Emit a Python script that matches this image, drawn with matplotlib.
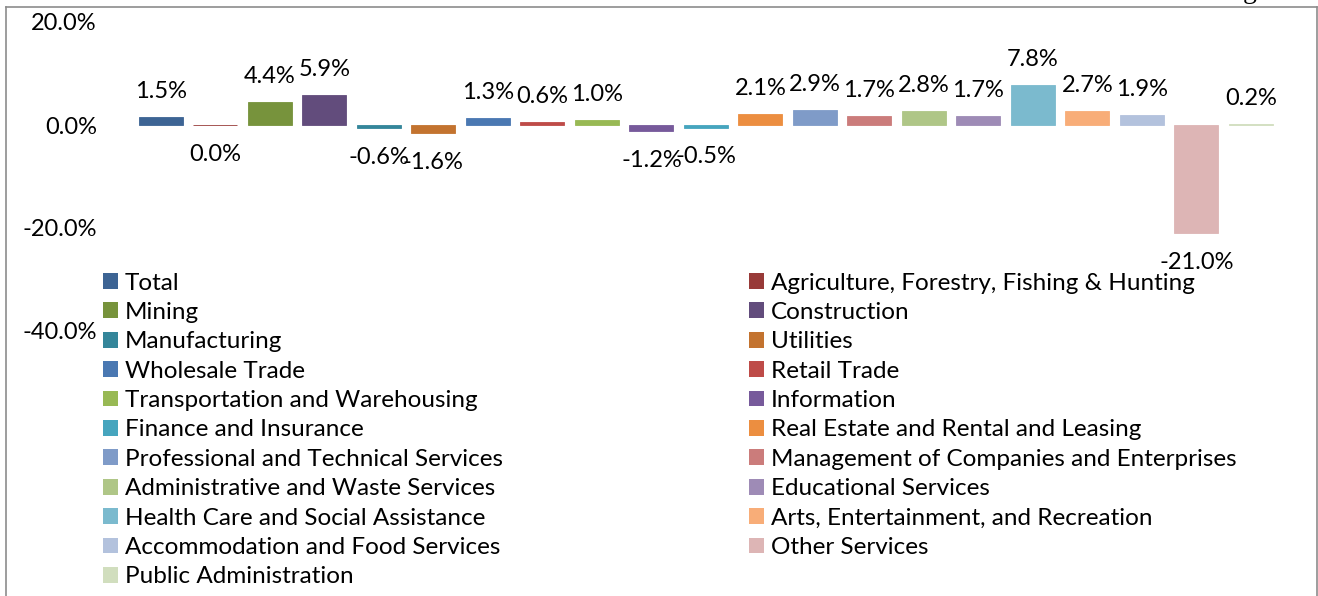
import matplotlib
matplotlib.use("Agg")
import matplotlib.pyplot as plt
from matplotlib.patches import Patch
from matplotlib.lines import Line2D

categories = [
    "Total", "Agriculture, Forestry, Fishing & Hunting", "Mining", "Construction",
    "Manufacturing", "Utilities", "Wholesale Trade", "Retail Trade",
    "Transportation and Warehousing", "Information", "Finance and Insurance",
    "Real Estate and Rental and Leasing", "Professional and Technical Services",
    "Management of Companies and Enterprises", "Administrative and Waste Services",
    "Educational Services", "Health Care and Social Assistance",
    "Arts, Entertainment, and Recreation", "Accommodation and Food Services",
    "Other Services", "Public Administration",
]
values = [1.5, -0.03, 4.4, 5.9, -0.6, -1.6, 1.3, 0.6, 1.0, -1.2, -0.5,
          2.1, 2.9, 1.7, 2.8, 1.7, 7.8, 2.7, 1.9, -21.0, 0.2]
colors = [
    "#3D6494", "#983A38", "#77933C", "#624C7C", "#34869A", "#C3732F",
    "#4A78B2", "#BE4B48", "#98B954", "#775A9B", "#46A5BE", "#EC8E40",
    "#7F9BC8", "#CB7C7B", "#AFC687", "#9E8BB6", "#7BBACE", "#F8AD78",
    "#B3C2DD", "#DDB5B5", "#D1DEBE",
]
yticks = [20, 0, -20, -40]

FONT = "Lato"
LABEL_SIZE = 17
LEGEND_SIZE = 17.5
W, H = 1318, 596
fig = plt.figure(figsize=(W / 100, H / 100), dpi=100)


def fx(px):
    return px / W


def fy(py):
    return 1 - py / H


ax = fig.add_axes([fx(133.75), fy(331), fx(1278) - fx(133.75), fy(22) - fy(331)])
x = list(range(len(values)))
ax.bar(x, values, width=0.807, color=colors, edgecolor=colors, linewidth=0.6)
ax.set_xlim(-0.5, len(values) - 0.5)
ax.set_ylim(-40, 20)
ax.set_yticks(yticks)
ax.set_yticklabels([f"{t:.1f}%" for t in yticks], family=FONT, fontsize=LABEL_SIZE)
ax.tick_params(axis="y", length=0, pad=26.5)
ax.set_xticks([])
for s in ax.spines.values():
    s.set_visible(False)
ax.patch.set_alpha(0)

for i, v in enumerate(values):
    s = f"{v:.1f}%"
    if s == "-0.0%":
        s = "0.0%"
    if v > 0:
        ax.annotate(s, (i, v), xytext=(0, 13.7), textcoords="offset points",
                    ha="center", va="baseline", family=FONT, fontsize=LABEL_SIZE)
    else:
        ax.annotate(s, (i, v), xytext=(0, -13.3), textcoords="offset points",
                    ha="center", va="top", family=FONT, fontsize=LABEL_SIZE)

handles = [Patch(facecolor=c, edgecolor="none") for c in colors]
common = dict(loc="upper left", frameon=False, borderpad=0, borderaxespad=0,
              handlelength=0.62, handleheight=0.62, handletextpad=0.29,
              labelspacing=0.345, prop={"family": FONT, "size": LEGEND_SIZE})
fig.legend(handles[0::2], categories[0::2], bbox_to_anchor=(fx(103), fy(272.5)), **common)
fig.legend(handles[1::2], categories[1::2], bbox_to_anchor=(fx(749), fy(272.5)), **common)

# outer frame
fc = "#8c8c8c"
fig.add_artist(Line2D([fx(5.5), fx(5.5)], [fy(6.5), fy(700)], color=fc, lw=1.2, transform=fig.transFigure))
fig.add_artist(Line2D([fx(5.5), fx(1316.5)], [fy(6.5), fy(6.5)], color=fc, lw=1.2, transform=fig.transFigure))
fig.add_artist(Line2D([fx(1316.5), fx(1316.5)], [fy(6.5), fy(700)], color=fc, lw=1.2, transform=fig.transFigure))
fig.text(fx(1250), fy(-1.5), "g", family="Liberation Serif", fontsize=20, ha="center", va="baseline")

fig.savefig("out.png", dpi=100)
